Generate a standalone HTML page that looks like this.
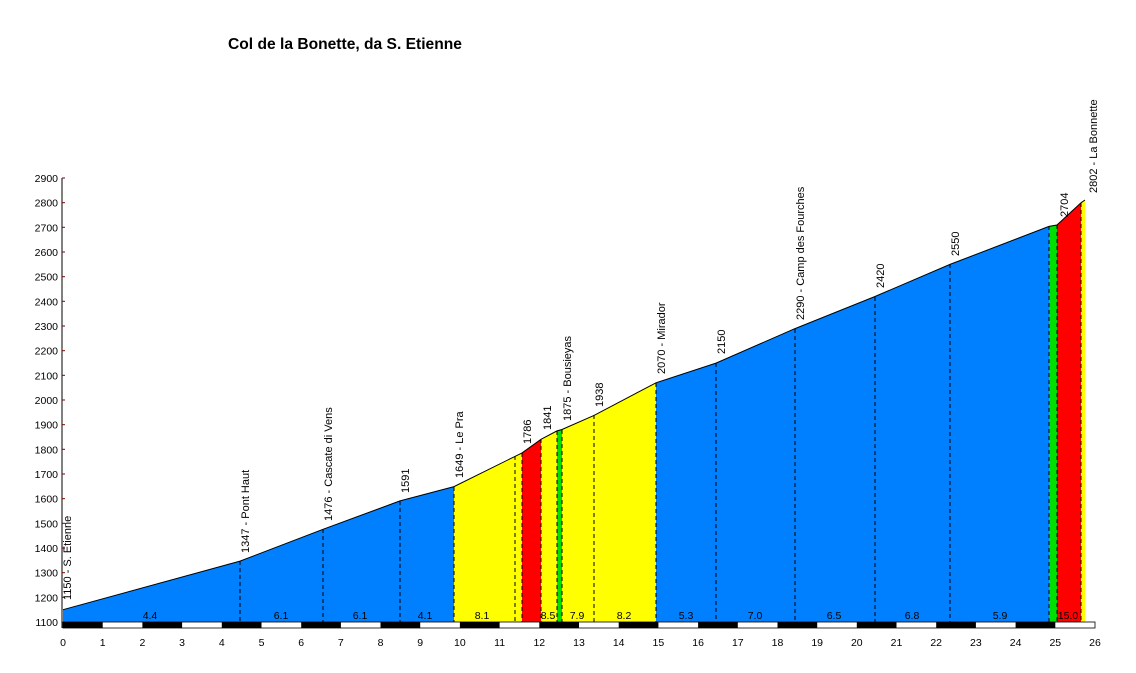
<!DOCTYPE html>
<html><head><meta charset="utf-8"><style>html,body{margin:0;padding:0;background:#fff}svg{display:block}</style></head>
<body>
<svg width="1136" height="673" xmlns="http://www.w3.org/2000/svg" font-family="Liberation Sans, sans-serif" font-size="11">
<rect width="1136" height="673" fill="#fff"/>
<text x="228" y="49" font-size="15.6" font-weight="bold">Col de la Bonette, da S. Etienne</text>
<polygon fill="#0080ff" points="63,622 63,609.7 240,561.1 323,529.3 400,500.9 454,486.6 454,622"/>
<polygon fill="#ffff00" points="454,622 454,486.6 515,456.4 522,452.9 522,622"/>
<polygon fill="#ff0000" points="522,622 522,452.9 541,439.3 541,622"/>
<polygon fill="#ffff00" points="541,622 541,439.3 557,430.9 557,622"/>
<polygon fill="#00e000" points="557,622 557,430.9 562,429.5 562,622"/>
<polygon fill="#ffff00" points="562,622 562,429.5 594,415.4 656,382.8 656,622"/>
<polygon fill="#0080ff" points="656,622 656,382.8 716,363.1 795,328.6 875,296.5 950,264.4 1049,226.4 1049,622"/>
<polygon fill="#00e000" points="1049,622 1049,226.4 1057,225 1057,622"/>
<polygon fill="#ff0000" points="1057,622 1057,225 1081,202.8 1081,622"/>
<polygon fill="#ffff00" points="1081,622 1081,202.8 1085,200 1085,622"/>
<polyline fill="none" stroke="#000" stroke-width="1" points="63,609.7 240,561.1 323,529.3 400,500.9 454,486.6 515,456.4 522,452.9 541,439.3 557,430.9 562,429.5 594,415.4 656,382.8 716,363.1 795,328.6 875,296.5 950,264.4 1049,226.4 1057,225 1081,202.8 1085,200"/>
<g stroke="#000" stroke-dasharray="4,3" stroke-width="1">
<line x1="240" y1="561" x2="240" y2="622"/><line x1="323" y1="529" x2="323" y2="622"/>
<line x1="400" y1="501" x2="400" y2="622"/><line x1="454" y1="487" x2="454" y2="622"/>
<line x1="515" y1="456" x2="515" y2="622"/><line x1="522" y1="453" x2="522" y2="622"/>
<line x1="541" y1="439" x2="541" y2="622"/><line x1="557" y1="431" x2="557" y2="622"/>
<line x1="562" y1="430" x2="562" y2="622"/><line x1="594" y1="415" x2="594" y2="622"/>
<line x1="656" y1="383" x2="656" y2="622"/><line x1="716" y1="363" x2="716" y2="622"/>
<line x1="795" y1="329" x2="795" y2="622"/><line x1="875" y1="297" x2="875" y2="622"/>
<line x1="950" y1="264" x2="950" y2="622"/><line x1="1049" y1="226" x2="1049" y2="622"/>
<line x1="1057" y1="225" x2="1057" y2="622"/><line x1="1081" y1="203" x2="1081" y2="622"/>
</g>
<line x1="62" y1="178" x2="62" y2="628" stroke="#000"/>
<g stroke="#800000">
<line x1="62" y1="178" x2="65" y2="178"/><line x1="62" y1="202.7" x2="65" y2="202.7"/><line x1="62" y1="227.3" x2="65" y2="227.3"/><line x1="62" y1="252" x2="65" y2="252"/><line x1="62" y1="276.7" x2="65" y2="276.7"/><line x1="62" y1="301.3" x2="65" y2="301.3"/><line x1="62" y1="326" x2="65" y2="326"/><line x1="62" y1="350.7" x2="65" y2="350.7"/><line x1="62" y1="375.3" x2="65" y2="375.3"/><line x1="62" y1="400" x2="65" y2="400"/><line x1="62" y1="424.7" x2="65" y2="424.7"/><line x1="62" y1="449.3" x2="65" y2="449.3"/><line x1="62" y1="474" x2="65" y2="474"/><line x1="62" y1="498.7" x2="65" y2="498.7"/><line x1="62" y1="523.3" x2="65" y2="523.3"/><line x1="62" y1="548" x2="65" y2="548"/><line x1="62" y1="572.7" x2="65" y2="572.7"/><line x1="62" y1="597.3" x2="65" y2="597.3"/>
</g>
<g text-anchor="end" font-size="10.5">
<text x="58" y="182">2900</text><text x="58" y="206.7">2800</text><text x="58" y="231.3">2700</text><text x="58" y="256">2600</text><text x="58" y="280.7">2500</text><text x="58" y="305.3">2400</text><text x="58" y="330">2300</text><text x="58" y="354.7">2200</text><text x="58" y="379.3">2100</text><text x="58" y="404">2000</text><text x="58" y="428.7">1900</text><text x="58" y="453.3">1800</text><text x="58" y="478">1700</text><text x="58" y="502.7">1600</text><text x="58" y="527.3">1500</text><text x="58" y="552">1400</text><text x="58" y="576.7">1300</text><text x="58" y="601.3">1200</text><text x="58" y="626">1100</text>
</g>
<rect x="63" y="622" width="1032" height="6" fill="#fff" stroke="#000" stroke-width="0.8"/>
<g fill="#000">
<rect x="63" y="622" width="39.7" height="6"/><rect x="142.4" y="622" width="39.7" height="6"/><rect x="221.8" y="622" width="39.7" height="6"/><rect x="301.2" y="622" width="39.7" height="6"/><rect x="380.5" y="622" width="39.7" height="6"/><rect x="459.9" y="622" width="39.7" height="6"/><rect x="539.3" y="622" width="39.7" height="6"/><rect x="618.7" y="622" width="39.7" height="6"/><rect x="698.1" y="622" width="39.7" height="6"/><rect x="777.5" y="622" width="39.7" height="6"/><rect x="856.8" y="622" width="39.7" height="6"/><rect x="936.2" y="622" width="39.7" height="6"/><rect x="1015.6" y="622" width="39.7" height="6"/>
</g>
<g text-anchor="middle" font-size="10.5">
<text x="63" y="646">0</text><text x="102.7" y="646">1</text><text x="142.4" y="646">2</text><text x="182.1" y="646">3</text><text x="221.8" y="646">4</text><text x="261.5" y="646">5</text><text x="301.2" y="646">6</text><text x="340.8" y="646">7</text><text x="380.5" y="646">8</text><text x="420.2" y="646">9</text><text x="459.9" y="646">10</text><text x="499.6" y="646">11</text><text x="539.3" y="646">12</text><text x="579" y="646">13</text><text x="618.7" y="646">14</text><text x="658.4" y="646">15</text><text x="698.1" y="646">16</text><text x="737.8" y="646">17</text><text x="777.5" y="646">18</text><text x="817.2" y="646">19</text><text x="856.8" y="646">20</text><text x="896.5" y="646">21</text><text x="936.2" y="646">22</text><text x="975.9" y="646">23</text><text x="1015.6" y="646">24</text><text x="1055.3" y="646">25</text><text x="1095" y="646">26</text>
</g>
<g text-anchor="middle" font-size="10.5">
<text x="150" y="619">4.4</text><text x="281" y="619">6.1</text><text x="360" y="619">6.1</text><text x="425" y="619">4.1</text><text x="482" y="619">8.1</text><text x="548" y="619">8.5</text><text x="577" y="619">7.9</text><text x="624" y="619">8.2</text><text x="686" y="619">5.3</text><text x="755" y="619">7.0</text><text x="834" y="619">6.5</text><text x="912" y="619">6.8</text><text x="1000" y="619">5.9</text><text x="1068" y="619">15.0</text>
</g>
<g font-size="11">
<text transform="translate(71,600) rotate(-90)">1150 - S. Etienne</text>
<text transform="translate(249,553) rotate(-90)">1347 - Pont Haut</text>
<text transform="translate(332,521) rotate(-90)">1476 - Cascate di Vens</text>
<text transform="translate(409,493) rotate(-90)">1591</text>
<text transform="translate(463,478) rotate(-90)">1649 - Le Pra</text>
<text transform="translate(531,444) rotate(-90)">1786</text>
<text transform="translate(551,430) rotate(-90)">1841</text>
<text transform="translate(571,421) rotate(-90)">1875 - Bousieyas</text>
<text transform="translate(603,407) rotate(-90)">1938</text>
<text transform="translate(665,374) rotate(-90)">2070 - Mirador</text>
<text transform="translate(725,354) rotate(-90)">2150</text>
<text transform="translate(804,320) rotate(-90)">2290 - Camp des Fourches</text>
<text transform="translate(884,288) rotate(-90)">2420</text>
<text transform="translate(959,256) rotate(-90)">2550</text>
<text transform="translate(1068,217) rotate(-90)">2704</text>
<text transform="translate(1097,193) rotate(-90)">2802 - La Bonnette</text>
</g>
</svg>
</body></html>
